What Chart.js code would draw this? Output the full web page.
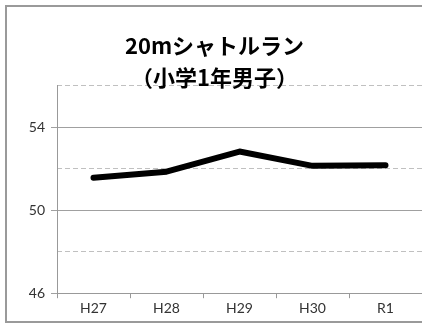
<!DOCTYPE html>
<html>
<head>
<meta charset="utf-8">
<script src="https://cdn.jsdelivr.net/npm/chart.js@4"></script>
<style>
  html, body { margin: 0; padding: 0; background: #fff; overflow: hidden; }
  #frame {
    position: absolute;
    left: 5px;
    top: 5px;
    width: 440px;
    height: 314px;
    border: 2px solid #9a9a9a;
  }
  #chart { display: block; }
</style>
</head>
<body>
<div id="frame">
  <canvas id="chart" width="440" height="314"></canvas>
</div>
<script>
const titleLines = ["20mシャトルラン", "（小学1年男子）"];
const years = ["H27", "H28", "H29", "H30", "R1"];
const shuttleRun = [51.57, 51.86, 52.83, 52.14, 52.17];
const yMin = 46;
const yMax = 56;
const majorTicks = [46, 50, 54];
const minorTicks = [48, 52, 56];

const ctx = document.getElementById("chart").getContext("2d");

new Chart(ctx, {
  type: "line",
  data: {
    labels: years,
    datasets: [
      {
        data: shuttleRun,
        borderColor: "#000",
        borderWidth: 6,
        borderCapStyle: "round",
        borderJoinStyle: "round",
        pointRadius: 0,
        tension: 0,
        fill: false,
      },
    ],
  },
  options: {
    responsive: false,
    animation: false,
    layout: {
      padding: { left: 0, right: 25, top: 0, bottom: 2 },
    },
    plugins: {
      legend: { display: false },
      tooltip: { enabled: false },
      title: {
        display: true,
        text: titleLines,
        color: "#000",
        font: {
          family: "'Noto Sans CJK JP', sans-serif",
          size: 22,
          weight: "bold",
          lineHeight: 1.45,
        },
        padding: { top: 23, bottom: -8 },
      },
    },
    scales: {
      x: {
        offset: true,
        grid: {
          display: true,
          drawOnChartArea: false,
          drawTicks: true,
          tickLength: 5,
          offset: true,
          color: "#999",
        },
        border: { color: "#999", width: 1 },
        ticks: {
          color: "#333",
          padding: 2,
          font: { family: "Lato, sans-serif", size: 14 },
        },
      },
      y: {
        min: yMin,
        max: yMax,
        afterBuildTicks: (scale) => {
          scale.ticks = majorTicks.map((v) => ({ value: v }));
        },
        afterFit: (scale) => {
          scale.width = 50;
        },
        grid: {
          color: "#a0a0a0",
          lineWidth: 1,
          tickLength: 6,
        },
        border: { color: "#999", width: 1 },
        ticks: {
          color: "#333",
          padding: 6,
          font: { family: "Lato, sans-serif", size: 14 },
        },
      },
      yMinor: {
        type: "linear",
        position: "left",
        min: yMin,
        max: yMax,
        afterBuildTicks: (scale) => {
          scale.ticks = minorTicks.map((v) => ({ value: v }));
        },
        afterFit: (scale) => {
          scale.width = 0;
        },
        grid: {
          color: "#c0c0c0",
          lineWidth: 1,
          drawTicks: false,
        },
        border: { display: false, dash: [5, 3] },
        ticks: { display: false },
      },
    },
  },
});
</script>
</body>
</html>
